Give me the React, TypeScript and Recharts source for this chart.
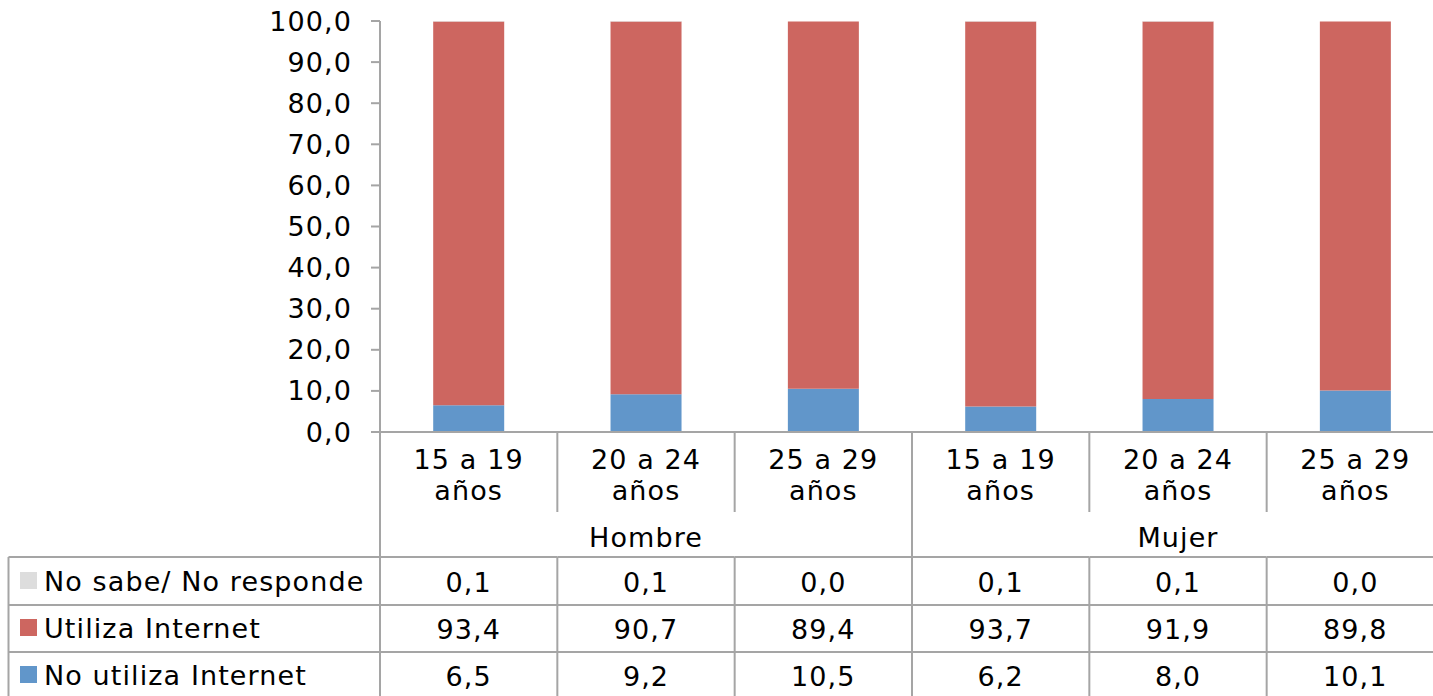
import React from "react";
import { BarChart, Bar, XAxis, YAxis } from "recharts";

const categories = ["15 a 19 años", "20 a 24 años", "25 a 29 años", "15 a 19 años", "20 a 24 años", "25 a 29 años"];
const groups = ["Hombre", "Mujer"];
const noUtiliza = [6.5, 9.2, 10.5, 6.2, 8.0, 10.1];
const utiliza = [93.4, 90.7, 89.4, 93.7, 91.9, 89.8];
const noSabe = [0.1, 0.1, 0.0, 0.1, 0.1, 0.0];
const yTicks = [0, 10, 20, 30, 40, 50, 60, 70, 80, 90, 100];

const series = [
  { key: "noUtiliza", name: "No utiliza Internet", color: "#6196CA", values: noUtiliza },
  { key: "utiliza", name: "Utiliza Internet", color: "#CD6660", values: utiliza },
  { key: "noSabe", name: "No sabe/ No responde", color: "#DDDDDD", values: noSabe },
];

const data = categories.map((c, i) => ({
  cat: c,
  idx: i,
  noUtiliza: noUtiliza[i],
  utiliza: utiliza[i],
  noSabe: noSabe[i],
}));

const FONT = "'DejaVu Sans', Verdana, sans-serif";
const FS = 27;
const LS = 1.1;
const LINE = "#A5A5A5";
const LW = 2;

const fmt = (v: number) => v.toFixed(1).replace(".", ",");

const txt = { fontFamily: FONT, fontSize: FS, letterSpacing: LS, fill: "#000" } as const;

function CategoryTick(props: any) {
  const { x, y, payload } = props;
  const i: number = props.index ?? payload.index ?? 0;
  const half: number = payload && payload.offset ? payload.offset : 88.67;
  const left = x - half;
  const right = x + half;
  const label: string = categories[i] ?? String(payload.value);
  const sp = label.lastIndexOf(" ");
  const l1 = label.slice(0, sp);
  const l2 = label.slice(sp + 1);
  const rows = [...series].reverse();
  const rowLines = [y + 125, y + 173, y + 220];
  const els: React.ReactNode[] = [];

  if (i % 3 === 0) {
    els.push(<line key="vl" x1={left} y1={y} x2={left} y2={y + 270} stroke={LINE} strokeWidth={LW} />);
  } else {
    els.push(<line key="vl1" x1={left} y1={y} x2={left} y2={y + 80} stroke={LINE} strokeWidth={LW} />);
    els.push(<line key="vl2" x1={left} y1={y + 125} x2={left} y2={y + 270} stroke={LINE} strokeWidth={LW} />);
  }
  if (i === categories.length - 1) {
    els.push(<line key="vr" x1={right} y1={y} x2={right} y2={y + 270} stroke={LINE} strokeWidth={LW} />);
  }
  rowLines.forEach((ly, k) => {
    els.push(<line key={"h" + k} x1={left} y1={ly} x2={right} y2={ly} stroke={LINE} strokeWidth={LW} />);
  });
  els.push(<text key="c1" x={x} y={y + 37} textAnchor="middle" {...txt}>{l1}</text>);
  els.push(<text key="c2" x={x} y={y + 68} textAnchor="middle" {...txt}>{l2}</text>);
  if (i % 3 === 1) {
    els.push(<text key="g" x={x} y={y + 115} textAnchor="middle" {...txt}>{groups[Math.floor(i / 3)]}</text>);
  }
  rows.forEach((s, k) => {
    els.push(
      <text key={"v" + k} x={x} y={y + 160 + 47 * k} textAnchor="middle" {...txt}>
        {fmt(s.values[i])}
      </text>
    );
  });
  if (i === 0) {
    const lx = 8.5;
    els.push(<line key="lv" x1={lx} y1={y + 125} x2={lx} y2={y + 270} stroke={LINE} strokeWidth={LW} />);
    rowLines.forEach((ly, k) => {
      els.push(<line key={"lh" + k} x1={lx} y1={ly} x2={left} y2={ly} stroke={LINE} strokeWidth={LW} />);
    });
    rows.forEach((s, k) => {
      els.push(<rect key={"lr" + k} x={20} y={y + 140 + 47 * k} width={17} height={17} fill={s.color} />);
      els.push(
        <text key={"lt" + k} x={44} y={y + 159 + 47 * k} textAnchor="start" {...txt}>
          {s.name}
        </text>
      );
    });
  }
  return <g>{els}</g>;
}

export default function App() {
  return (
    <div style={{ position: "absolute", left: 0, top: 0, width: 1433, height: 696, overflow: "hidden", background: "#fff" }}>
      <BarChart
        width={1450}
        height={700}
        data={data}
        margin={{ top: 21, right: 6, bottom: 0, left: 320 }}
        barCategoryGap="30%"
      >
        <XAxis
          dataKey="cat"
          height={268}
          interval={0}
          tickSize={0}
          tickMargin={0}
          tickLine={false}
          axisLine={{ stroke: LINE, strokeWidth: LW }}
          tick={<CategoryTick />}
        />
        <YAxis
          width={60}
          domain={[0, 100]}
          allowDataOverflow
          ticks={yTicks}
          interval={0}
          tickFormatter={fmt}
          tickSize={9}
          tickMargin={19}
          axisLine={{ stroke: LINE, strokeWidth: LW }}
          tickLine={{ stroke: LINE, strokeWidth: LW }}
          tick={{ fill: "#000", fontSize: FS, fontFamily: FONT, letterSpacing: LS }}
        />
        {series.map((s) => (
          <Bar key={s.key} dataKey={s.key} name={s.name} stackId="a" fill={s.color} isAnimationActive={false} />
        ))}
      </BarChart>
    </div>
  );
}
